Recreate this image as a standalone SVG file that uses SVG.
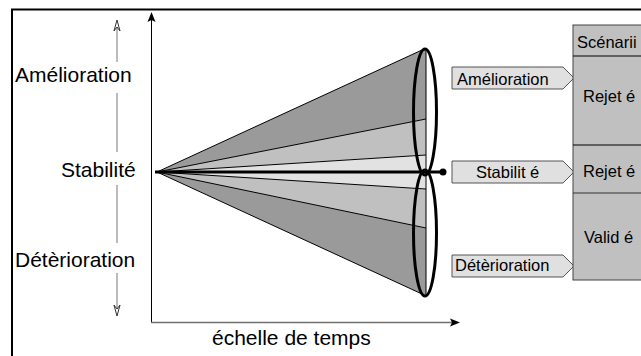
<svg xmlns="http://www.w3.org/2000/svg" width="641" height="356" viewBox="0 0 641 356">
<style>
text{font-family:"Liberation Sans",Arial,sans-serif;fill:#000}
.big{font-size:21px}
.sm{font-size:16.5px}
.edge{stroke:#000;stroke-width:1;fill:none}
.lab{fill:#e0e0e0;stroke:#555;stroke-width:1}
</style>
<defs>
<clipPath id="coneClip">
<polygon points="157,172 422,50 426,50 426,294 422,294"/>
<path d="M426,49 A11.5,63 0 0 0 426,175 Z"/>
<path d="M426,170 A11.5,63 0 0 0 426,296 Z"/>
</clipPath>
</defs>
<rect width="641" height="356" fill="#fff"/>
<g id="frame">
<line x1="11" y1="9.5" x2="641" y2="9.5" stroke="#000" stroke-width="2"/>
<line x1="12" y1="9" x2="12" y2="356" stroke="#000" stroke-width="2"/>
</g>
<g id="left-scale">
<text class="big" x="15" y="82">Amélioration</text>
<text class="big" x="61" y="177">Stabilité</text>
<text class="big" x="15" y="267">Détèrioration</text>
</g>
<g id="connectors">
<line x1="117" y1="24" x2="117" y2="62" stroke="#777" stroke-width="1"/>
<line x1="117" y1="93" x2="117" y2="152" stroke="#777" stroke-width="1"/>
<line x1="117" y1="185" x2="117" y2="243" stroke="#777" stroke-width="1"/>
<line x1="117" y1="273" x2="117" y2="312" stroke="#777" stroke-width="1"/>
<path d="M114,31 L117,20 L120,31 L117,27 Z" fill="#fff" stroke="#333" stroke-width="1"/>
<path d="M114,305 L117,316 L120,305 L117,309 Z" fill="#fff" stroke="#333" stroke-width="1"/>
<line x1="151.5" y1="18" x2="151.5" y2="322.5" stroke="#000" stroke-width="1"/>
<path d="M147.5,22 L151.5,12 L155.5,22 L151.5,20 Z" fill="#000"/>
<line x1="151" y1="322.5" x2="452" y2="322.5" stroke="#707070" stroke-width="1.5"/>
<path d="M450,318.5 L460,322.5 L450,326.5 L452,322.5 Z" fill="#000"/>
</g>
<text class="big" x="212" y="345">échelle de temps</text>
<g id="cone">
<g clip-path="url(#coneClip)">
<polygon points="157,172 426,20 426,119" fill="#9a9a9a"/>
<polygon points="157,172 426,119 426,155" fill="#c0c0c0"/>
<polygon points="157,172 426,155 426,189" fill="#e2e2e2"/>
<polygon points="157,172 426,189 426,228" fill="#c0c0c0"/>
<polygon points="157,172 426,228 426,330" fill="#9a9a9a"/>
</g>
<line class="edge" x1="157" y1="172" x2="422" y2="50"/>
<line class="edge" x1="157" y1="172" x2="426" y2="119"/>
<line class="edge" x1="157" y1="172" x2="426" y2="155"/>
<line class="edge" x1="157" y1="172" x2="426" y2="189"/>
<line class="edge" x1="157" y1="172" x2="426" y2="228"/>
<line class="edge" x1="157" y1="172" x2="422" y2="294"/>
<line class="edge" x1="426" y1="50" x2="426" y2="294"/>
<line x1="155" y1="172" x2="443" y2="172" stroke="#000" stroke-width="3"/>
<circle cx="443" cy="172" r="3.5" fill="#000"/>
<ellipse cx="425" cy="112" rx="11.5" ry="63" fill="none" stroke="#000" stroke-width="3"/>
<ellipse cx="425" cy="233" rx="11.5" ry="63" fill="none" stroke="#000" stroke-width="3"/>
</g>
<g id="label-amelioration">
<polygon class="lab" points="452,67 563,67 574,78 563,89 452,89"/>
<text class="sm" x="457" y="85">Amélioration</text>
</g>
<g id="label-stabilite">
<polygon class="lab" points="452,161 563,161 574,172 563,183 452,183"/>
<text class="sm" x="476" y="178">Stabilit é</text>
</g>
<g id="label-deterioration">
<polygon class="lab" points="452,255 563,255 574,266 563,277 452,277"/>
<text class="sm" x="455" y="271">Détèrioration</text>
</g>
<g id="scenarii">
<rect x="573" y="25" width="80" height="255" fill="#c0c0c0" stroke="#444" stroke-width="1"/>
<line x1="573" y1="56" x2="641" y2="56" stroke="#000" stroke-width="1"/>
<line x1="573" y1="145" x2="641" y2="145" stroke="#000" stroke-width="1"/>
<line x1="573" y1="193" x2="641" y2="193" stroke="#333" stroke-width="1"/>
<text class="sm" x="577" y="47.5">Scénarii</text>
<text class="sm" x="583" y="102">Rejet é</text>
<text class="sm" x="583" y="177">Rejet é</text>
<text class="sm" x="584" y="243">Valid é</text>
</g>
</svg>
